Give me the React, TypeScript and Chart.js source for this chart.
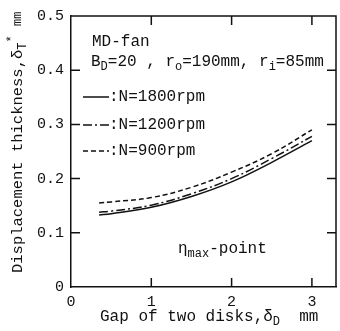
import React, { useEffect, useRef } from "react";
import { Chart, registerables } from "chart.js";

Chart.register(...registerables);

const gapValues = [0.35, 0.5, 1.0, 1.5, 2.0, 2.5, 3.0];
const thick1800 = [0.133, 0.135, 0.147, 0.167, 0.194, 0.23, 0.27];
const thick1200 = [0.138, 0.14, 0.151, 0.172, 0.2, 0.237, 0.278];
const thick900 = [0.155, 0.157, 0.165, 0.184, 0.212, 0.246, 0.29];
const xTicks = [0, 1, 2, 3];
const seriesLabels = [":N=1800rpm", ":N=1200rpm", ":N=900rpm"];

const INK = "#111";
const FONT = '"Liberation Mono", "DejaVu Sans Mono", monospace';
const DASHES: number[][] = [[], [9, 3, 2, 3], [5, 3]];

type Seg = { t: string; sub?: boolean; sup?: boolean; small?: boolean };

function drawSegs(ctx: CanvasRenderingContext2D, segs: Seg[], x: number, y: number, size: number) {
  let cx = x;
  for (const s of segs) {
    const small = s.sub || s.sup || s.small;
    const fs = small ? Math.round(size * 0.78) : size;
    ctx.font = `${fs}px ${FONT}`;
    const dy = s.sub ? size * 0.3 : s.sup ? -size * 0.4 : 0;
    ctx.fillText(s.t, cx, y + dy);
    cx += ctx.measureText(s.t).width;
  }
}

const decorPlugin = {
  id: "decor",
  afterDraw(chart: any) {
    const { ctx, chartArea } = chart;
    const { left, right, top, bottom } = chartArea;
    const xs = chart.scales.x;
    const ys = chart.scales.y;
    ctx.save();
    ctx.strokeStyle = INK;
    ctx.fillStyle = INK;
    ctx.lineWidth = 1.5;
    // frame top & right
    ctx.beginPath();
    ctx.moveTo(left, top);
    ctx.lineTo(right, top);
    ctx.lineTo(right, bottom);
    ctx.stroke();
    // inward ticks
    const tl = 9;
    ctx.beginPath();
    for (const v of xTicks.slice(1)) {
      const px = xs.getPixelForValue(v);
      ctx.moveTo(px, bottom);
      ctx.lineTo(px, bottom - tl);
      ctx.moveTo(px, top);
      ctx.lineTo(px, top + tl);
    }
    for (const t of ys.ticks) {
      if (t.value <= 0 || t.value >= 0.5) continue;
      const py = ys.getPixelForValue(t.value);
      ctx.moveTo(left, py);
      ctx.lineTo(left + tl, py);
      ctx.moveTo(right, py);
      ctx.lineTo(right - tl, py);
    }
    ctx.stroke();

    ctx.textBaseline = "middle";
    ctx.textAlign = "left";
    const fs = 16;
    drawSegs(ctx, [{ t: "MD-fan" }], 92, 42, fs);
    drawSegs(
      ctx,
      [
        { t: "B" }, { t: "D", sub: true }, { t: "=20 , r" }, { t: "o", sub: true },
        { t: "=190mm, r" }, { t: "i", sub: true }, { t: "=85mm" },
      ],
      91, 62, fs
    );
    // legend
    const ly = [97, 125, 151];
    ctx.lineWidth = 1.5;
    for (let i = 0; i < 3; i++) {
      ctx.setLineDash(DASHES[i]);
      ctx.beginPath();
      ctx.moveTo(83, ly[i]);
      ctx.lineTo(109, ly[i]);
      ctx.stroke();
      ctx.setLineDash([]);
      drawSegs(ctx, [{ t: seriesLabels[i] }], 109, ly[i], fs);
    }
    drawSegs(ctx, [{ t: "\u03b7" }, { t: "max", sub: true }, { t: "-point" }], 178, 249, fs);

    // x title
    drawSegs(ctx, [{ t: "Gap of two disks,\u03b4" }, { t: "D", sub: true }, { t: "  mm" }], 100, 317, fs);

    // y title
    ctx.save();
    ctx.translate(18, 273);
    ctx.rotate(-Math.PI / 2);
    drawSegs(
      ctx,
      [{ t: "Displacement thickness,\u03b4" }, { t: "T", sub: true }, { t: "*", sup: true }, { t: " " }, { t: "mm", small: true }],
      0, 0, 15.5
    );
    ctx.restore();
    ctx.restore();
  },
};

export default function App() {
  const ref = useRef<HTMLCanvasElement>(null);
  useEffect(() => {
    document.body.style.margin = "0";
    const mk = (vals: number[], i: number) => ({
      label: seriesLabels[i],
      data: gapValues.map((x, j) => ({ x, y: vals[j] })),
      borderColor: INK,
      borderWidth: 1.5,
      borderDash: DASHES[i],
      pointRadius: 0,
      tension: 0.4,
      fill: false,
    });
    const chart = new Chart(ref.current!, {
      type: "line",
      data: { datasets: [mk(thick1800, 0), mk(thick1200, 1), mk(thick900, 2)] },
      plugins: [decorPlugin],
      options: {
        animation: false,
        responsive: true,
        maintainAspectRatio: false,
        layout: { padding: { top: 15, right: 4, left: 0, bottom: 0 } },
        plugins: { legend: { display: false }, tooltip: { enabled: false } },
        scales: {
          x: {
            type: "linear",
            min: 0,
            max: 3.3,
            afterBuildTicks: (s: any) => {
              s.ticks = xTicks.map((v) => ({ value: v }));
            },
            afterFit: (s: any) => {
              s.height = 44;
            },
            grid: { display: false, drawTicks: false },
            border: { display: true, color: INK, width: 1.5 },
            ticks: { color: INK, font: { family: FONT, size: 15 }, padding: 6, maxRotation: 0 },
          },
          y: {
            type: "linear",
            min: 0,
            max: 0.5,
            afterFit: (s: any) => {
              s.width = 71;
            },
            grid: { display: false, drawTicks: false },
            border: { display: true, color: INK, width: 1.5 },
            ticks: { stepSize: 0.1, color: INK, font: { family: FONT, size: 15 }, padding: 7 },
          },
        },
      } as any,
    });
    return () => chart.destroy();
  }, []);
  return (
    <div style={{ width: 340, height: 331, position: "relative" }}>
      <canvas ref={ref} />
    </div>
  );
}
